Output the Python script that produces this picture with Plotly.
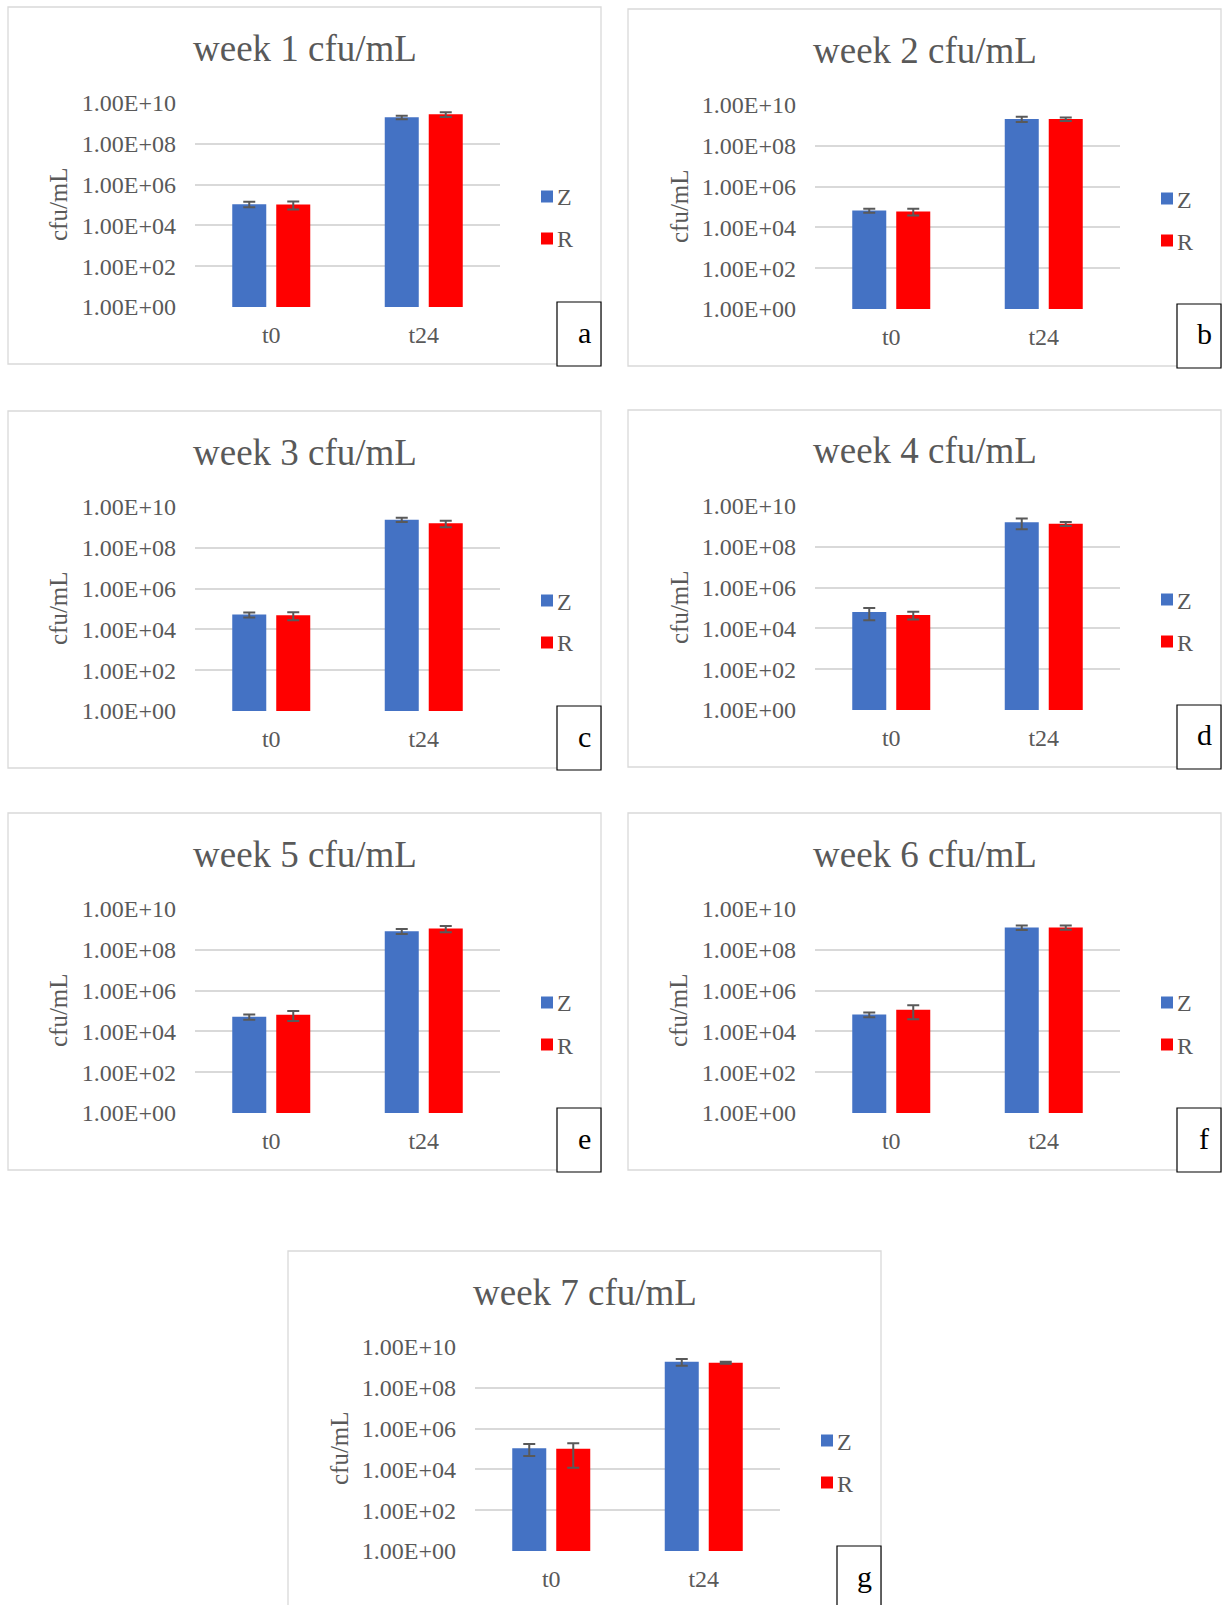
import plotly.graph_objects as go

# ---- data -------------------------------------------------------------
categories = ["t0", "t24"]
series_names = ["Z", "R"]
series_colors = ["#4472C4", "#FF0000"]

titles = [
    "week 1 cfu/mL", "week 2 cfu/mL", "week 3 cfu/mL", "week 4 cfu/mL",
    "week 5 cfu/mL", "week 6 cfu/mL", "week 7 cfu/mL",
]
panel_letters = ["a", "b", "c", "d", "e", "f", "g"]

tick_values = [1e0, 1e2, 1e4, 1e6, 1e8, 1e10]
tick_labels = ["1.00E+00", "1.00E+02", "1.00E+04", "1.00E+06", "1.00E+08", "1.00E+10"]

# mean cfu/mL per week at [t0, t24]
z_mean = [[1.1e5, 2.0e9], [6.7e4, 2.05e9], [5.3e4, 2.4e9], [6.3e4, 1.58e9],
          [5.2e4, 8.2e8], [6.7e4, 1.25e9], [1.1e5, 1.9e9]]
z_sd = [[3.3e4, 3.8e8], [1.5e4, 6.0e8], [1.5e4, 5.5e8], [3.8e4, 8.5e8],
        [1.45e4, 2.2e8], [1.7e4, 3.1e8], [6.5e4, 7.0e8]]
r_mean = [[1.05e5, 2.8e9], [6.0e4, 2.05e9], [4.9e4, 1.58e9], [4.6e4, 1.36e9],
          [6.6e4, 1.1e9], [1.14e5, 1.25e9], [1.02e5, 1.7e9]]
r_sd = [[4.5e4, 7.5e8], [2.2e4, 4.0e8], [2.1e4, 5.5e8], [1.9e4, 3.0e8],
        [3.4e4, 3.8e8], [7.5e4, 3.0e8], [9.0e4, 2.0e8]]

# ---- layout geometry (pixels) ------------------------------------------
W, H = 1227, 1605
PANEL_W, PANEL_H = 593, 357
origins = [(8, 7), (628, 9), (8, 411), (628, 410), (8, 813), (628, 813), (288, 1251)]
PLOT_L, PLOT_R, PLOT_T, PLOT_B = 187, 492, 96, 300

FONT = "Times New Roman, Liberation Serif, serif"
TEXT_GREY = "#595959"
GRID_GREY = "#d9d9d9"


def px(x):
    return x / W


def py(y):
    return 1 - y / H


fig = go.Figure()
layout = {}
shapes = []
annotations = []

for i, (ox, oy) in enumerate(origins):
    n = "" if i == 0 else str(i + 1)
    xa, ya = "x" + n, "y" + n
    means_by_series = [z_mean[i], r_mean[i]]
    sds_by_series = [z_sd[i], r_sd[i]]
    for name, color, means, sds in zip(series_names, series_colors, means_by_series, sds_by_series):
        fig.add_trace(go.Bar(
            x=categories, y=means, name=name,
            marker=dict(color=color, line=dict(width=0)),
            error_y=dict(type="data", array=sds, visible=True,
                         color=TEXT_GREY, thickness=2, width=6),
            xaxis=xa, yaxis=ya, showlegend=False,
        ))

    layout["xaxis" + n] = dict(
        domain=[px(ox + PLOT_L), px(ox + PLOT_R)], anchor=ya, automargin=False,
        type="category", showgrid=False, zeroline=False, showline=False,
        ticks="", tickfont=dict(family=FONT, size=24, color=TEXT_GREY),
        ticklabelstandoff=11, fixedrange=True,
    )
    layout["yaxis" + n] = dict(
        domain=[py(oy + PLOT_B), py(oy + PLOT_T)], anchor=xa, automargin=False,
        type="log", range=[0, 10], tickmode="array",
        tickvals=tick_values, ticktext=tick_labels,
        showgrid=True, gridcolor=GRID_GREY, gridwidth=1.5,
        zeroline=False, showline=False, ticks="",
        tickfont=dict(family=FONT, size=24, color=TEXT_GREY),
        ticklabelstandoff=18, fixedrange=True,
    )

    # chart frame
    shapes.append(dict(type="rect", xref="paper", yref="paper",
                       x0=px(ox), x1=px(ox + PANEL_W), y0=py(oy + PANEL_H), y1=py(oy),
                       line=dict(color=GRID_GREY, width=1.3), fillcolor="rgba(0,0,0,0)",
                       layer="below"))

    # title
    annotations.append(dict(text=titles[i], xref="paper", yref="paper",
                            x=px(ox + PANEL_W / 2), y=py(oy + 41),
                            xanchor="center", yanchor="middle", showarrow=False,
                            font=dict(family=FONT, size=37, color=TEXT_GREY)))
    # y axis title
    annotations.append(dict(text="cfu/mL", xref="paper", yref="paper",
                            x=px(ox + 51), y=py(oy + 197), textangle=-90,
                            xanchor="center", yanchor="middle", showarrow=False,
                            font=dict(family=FONT, size=25, color=TEXT_GREY)))
    # legend
    for k, (name, color) in enumerate(zip(series_names, series_colors)):
        cy = oy + 189.5 + 42 * k
        shapes.append(dict(type="rect", xref="paper", yref="paper",
                           x0=px(ox + 533), x1=px(ox + 545), y0=py(cy + 6), y1=py(cy - 6),
                           line=dict(width=0), fillcolor=color))
        annotations.append(dict(text=name, xref="paper", yref="paper",
                                x=px(ox + 547), y=py(cy + 1),
                                xanchor="left", yanchor="middle", showarrow=False,
                                font=dict(family=FONT, size=24, color=TEXT_GREY)))
    # panel letter box
    shapes.append(dict(type="rect", xref="paper", yref="paper",
                       x0=px(ox + 549), x1=px(ox + PANEL_W), y0=py(oy + 359), y1=py(oy + 295),
                       line=dict(color="black", width=1.2), fillcolor="white", layer="above"))
    annotations.append(dict(text=panel_letters[i], xref="paper", yref="paper",
                            x=px(ox + 576), y=py(oy + 325),
                            xanchor="center", yanchor="middle", showarrow=False,
                            font=dict(family=FONT, size=30, color="black")))

fig.update_layout(
    width=W, height=H, margin=dict(l=0, r=0, t=0, b=0, autoexpand=False),
    paper_bgcolor="white", plot_bgcolor="white",
    barmode="group", bargap=0.423, bargroupgap=0.227,
    shapes=shapes, annotations=annotations, showlegend=False,
    **layout,
)

fig.write_html("out.html")
